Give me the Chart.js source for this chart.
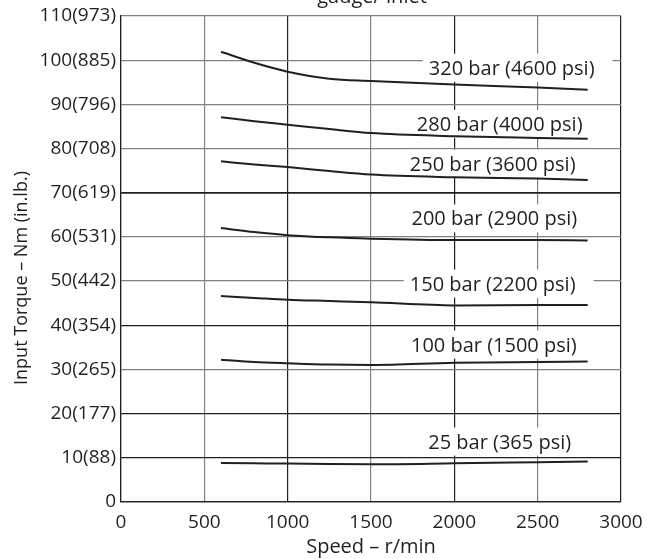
<!DOCTYPE html>
<html>
<head>
<meta charset="utf-8">
<script src="https://cdn.jsdelivr.net/npm/chart.js@4.4.0/dist/chart.umd.min.js"></script>
<style>
  html, body { margin: 0; padding: 0; background: #fff; }
</style>
</head>
<body>
<canvas id="line-chart" width="647" height="559"></canvas>
<script>
const speeds = [600, 800, 1000, 1250, 1500, 2000, 2500, 2800];

// input torque in Nm, one array per inlet pressure
const torque320 = [101.9, 99.4, 97.4, 95.8, 95.3, 94.5, 93.8, 93.3];
const torque280 = [87.1, 86.2, 85.4, 84.4, 83.5, 82.8, 82.4, 82.2];
const torque250 = [77.1, 76.4, 75.8, 74.9, 74.1, 73.5, 73.2, 72.9];
const torque200 = [62.0, 61.1, 60.4, 59.9, 59.6, 59.3, 59.3, 59.2];
const torque150 = [46.6, 46.2, 45.8, 45.5, 45.2, 44.5, 44.6, 44.6];
const torque100 = [32.2, 31.7, 31.4, 31.1, 31.0, 31.5, 31.7, 31.8];
const torque25 = [8.8, 8.75, 8.7, 8.6, 8.55, 8.75, 9.0, 9.15];

const pressureLabels = [
  "320 bar (4600 psi)",
  "280 bar (4000 psi)",
  "250 bar (3600 psi)",
  "200 bar (2900 psi)",
  "150 bar (2200 psi)",
  "100 bar (1500 psi)",
  "25 bar (365 psi)",
];

// y tick labels: Nm with in.lb. in brackets
const nmTicks = [0, 10, 20, 30, 40, 50, 60, 70, 80, 90, 100, 110];
const inlbTicks = ["", "88", "177", "265", "354", "442", "531", "619", "708", "796", "885", "973"];

// where each pressure label sits (speed, torque at text baseline)
const labelSpeed = [2344, 2272, 2230, 2240, 2230, 2237, 2272];
const labelTorque = [96.7, 84.0, 75.0, 62.6, 47.85, 34.05, 12.1];

const allTorque = [torque320, torque280, torque250, torque200, torque150, torque100, torque25];

const darkX = [0, 1000, 2000, 3000];
const darkY = [0, 10, 20, 40, 70];

const labelPlugin = {
  id: "curveLabels",
  beforeDatasetsDraw(chart) {
    const ctx = chart.ctx;
    const xs = chart.scales.x;
    const ys = chart.scales.y;
    ctx.save();
    ctx.font = "20px 'Open Sans'";
    ctx.textAlign = "center";
    ctx.textBaseline = "alphabetic";
    for (let i = 0; i < pressureLabels.length; i++) {
      const cx = xs.getPixelForValue(labelSpeed[i]);
      const by = ys.getPixelForValue(labelTorque[i]);
      const w = ctx.measureText(pressureLabels[i]).width;
      ctx.fillStyle = "#fff";
      ctx.fillRect(cx - w / 2 - 6, by - 21, w + 24, 28);
      ctx.fillStyle = "#231f20";
      ctx.fillText(pressureLabels[i], cx, by);
    }
    ctx.restore();
  },
  afterDraw(chart) {
    const ctx = chart.ctx;
    ctx.save();
    ctx.fillStyle = "#231f20";
    // cut-off heading at the top
    ctx.font = "20px 'Open Sans'";
    ctx.textAlign = "center";
    ctx.textBaseline = "alphabetic";
    ctx.fillText("gauge/ inlet", 372, 3);
    // y axis title
    ctx.font = "18px 'Open Sans'";
    ctx.translate(22, 278);
    ctx.rotate(-Math.PI / 2);
    ctx.textBaseline = "middle";
    ctx.fillText("Input Torque – Nm (in.lb.)", 0, 0);
    ctx.restore();
  },
};

const datasets = allTorque.map((arr, i) => ({
  label: pressureLabels[i],
  data: speeds.map((s, j) => ({ x: s, y: arr[j] })),
  borderColor: "#231f20",
  borderWidth: 2,
  pointRadius: 0,
  fill: false,
  cubicInterpolationMode: "monotone",
}));

new Chart(document.getElementById("line-chart"), {
  type: "line",
  data: { datasets: datasets },
  plugins: [labelPlugin],
  options: {
    responsive: false,
    animation: false,
    layout: { padding: { top: 16, right: 0, left: 0, bottom: 0 } },
    plugins: {
      legend: { display: false },
      tooltip: { enabled: false },
    },
    scales: {
      x: {
        type: "linear",
        min: 0,
        max: 3000,
        ticks: {
          stepSize: 500,
          color: "#231f20",
          font: { family: "'Open Sans'", size: 19 },
          padding: 9,
          maxRotation: 0,
          callback: (v) => String(v),
        },
        grid: {
          drawTicks: false,
          color: (c) => (darkX.includes(c.tick.value) ? "#231f20" : "#808080"),
          lineWidth: 1.2,
        },
        border: { color: "#231f20", width: 1.2 },
        title: {
          display: true,
          text: "Speed – r/min",
          color: "#231f20",
          font: { family: "'Open Sans'", size: 20 },
          padding: { top: 0, bottom: 0 },
        },
        afterFit: (scale) => {
          scale.height = 57;
          scale.paddingLeft = 0;
          scale.paddingRight = 26;
        },
      },
      y: {
        min: 0,
        max: 110,
        ticks: {
          stepSize: 10,
          color: "#231f20",
          font: { family: "'Open Sans'", size: 19 },
          padding: 5,
          callback: (v) => {
            const k = nmTicks.indexOf(v);
            return k <= 0 ? String(v) : v + "(" + inlbTicks[k] + ")";
          },
        },
        grid: {
          drawTicks: false,
          color: (c) => (darkY.includes(c.tick.value) ? "#231f20" : "#808080"),
          lineWidth: (c) => (c.tick.value === 70 ? 1.8 : 1.2),
        },
        border: { color: "#231f20", width: 1.2 },
        afterFit: (scale) => {
          scale.width = 121;
          scale.paddingTop = 0;
          scale.paddingBottom = 0;
        },
      },
    },
  },
});
</script>
</body>
</html>
